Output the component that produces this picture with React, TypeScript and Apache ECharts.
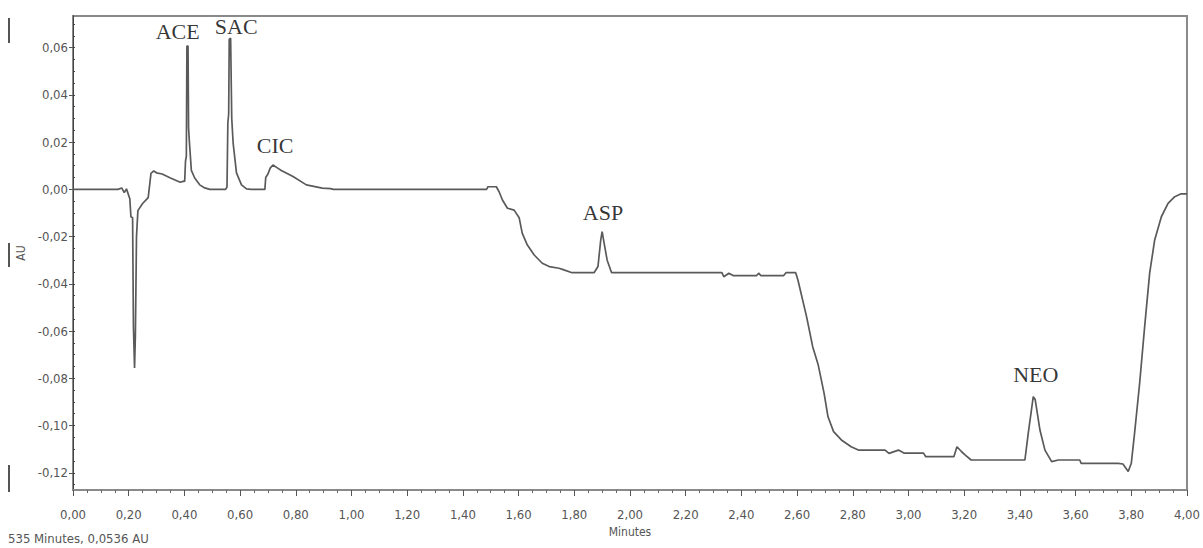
import React, { useEffect, useRef } from "react";
import * as echarts from "echarts";

// Chromatogram trace: [time (min), absorbance (AU)]
const injectionRegion: [number, number][] = [
  [0.0, 0.0], [0.161, 0.0], [0.175, 0.0006], [0.184, -0.0014], [0.192, 0.0002],
  [0.204, -0.004], [0.208, -0.0116], [0.214, -0.012], [0.217, -0.058],
  [0.221, -0.0756], [0.224, -0.062], [0.228, -0.02], [0.233, -0.009],
  [0.25, -0.006], [0.27, -0.0035], [0.28, 0.0068], [0.29, 0.0078],
  [0.30, 0.007], [0.32, 0.0065], [0.35, 0.0048], [0.385, 0.003], [0.398, 0.0035],
];
const acePeak: [number, number][] = [
  [0.401, 0.0033], [0.404, 0.012], [0.407, 0.014], [0.409, 0.0607], [0.413, 0.0607],
  [0.415, 0.026], [0.418, 0.02], [0.425, 0.008], [0.437, 0.0048], [0.455, 0.0019],
  [0.473, 0.0006], [0.491, 0.0],
];
const sacPeak: [number, number][] = [
  [0.548, 0.0], [0.553, 0.001], [0.556, 0.028], [0.559, 0.032], [0.561, 0.0636],
  [0.566, 0.064], [0.57, 0.03], [0.575, 0.0196], [0.587, 0.007], [0.605, 0.0019],
  [0.623, 0.0002], [0.64, 0.0],
];
const cicPeak: [number, number][] = [
  [0.689, 0.0], [0.692, 0.005], [0.7, 0.0065], [0.708, 0.009], [0.718, 0.0103],
  [0.735, 0.009], [0.748, 0.008], [0.79, 0.0054], [0.838, 0.0019], [0.895, 0.0005],
  [0.925, 0.0003], [0.935, 0.0],
];
const aspRegion: [number, number][] = [
  [1.485, 0.0], [1.49, 0.0011], [1.52, 0.0011], [1.53, -0.001], [1.542, -0.0045],
  [1.56, -0.008], [1.584, -0.0088], [1.602, -0.012], [1.613, -0.0185], [1.631, -0.0235],
  [1.656, -0.0278], [1.685, -0.0313], [1.71, -0.0327], [1.745, -0.0334], [1.76, -0.034],
  [1.792, -0.0353], [1.871, -0.0353], [1.885, -0.0327], [1.895, -0.0214], [1.9, -0.0179],
  [1.906, -0.022], [1.918, -0.03], [1.934, -0.0353],
];
const plateauRegion: [number, number][] = [
  [2.33, -0.0353], [2.337, -0.037], [2.355, -0.0355], [2.37, -0.0365], [2.455, -0.0365],
  [2.462, -0.0355], [2.47, -0.0365], [2.552, -0.0365], [2.56, -0.0353], [2.595, -0.0353],
];
const dropRegion: [number, number][] = [
  [2.603, -0.0384], [2.634, -0.0539], [2.656, -0.0666], [2.676, -0.0744], [2.697, -0.0864],
  [2.711, -0.0963], [2.731, -0.1026], [2.759, -0.1061], [2.794, -0.109], [2.82, -0.1104],
  [2.916, -0.1104], [2.93, -0.1118], [2.964, -0.1104], [2.985, -0.1117], [3.054, -0.1117],
  [3.062, -0.1132], [3.163, -0.1132], [3.174, -0.109], [3.19, -0.111], [3.204, -0.1125],
  [3.225, -0.1146], [3.418, -0.1146],
];
const neoRegion: [number, number][] = [
  [3.43, -0.1033], [3.448, -0.0878], [3.455, -0.089], [3.472, -0.1019], [3.49, -0.1104],
  [3.514, -0.1153], [3.538, -0.1146], [3.615, -0.1146], [3.62, -0.116], [3.753, -0.116],
  [3.77, -0.1163], [3.789, -0.1195], [3.8, -0.116],
];
const endRise: [number, number][] = [
  [3.812, -0.103], [3.83, -0.0821], [3.848, -0.0581], [3.866, -0.0355], [3.884, -0.0214],
  [3.908, -0.0116], [3.932, -0.0059], [3.956, -0.0031], [3.979, -0.0019], [4.0, -0.0019],
];

const peakNames = ["ACE", "SAC", "CIC", "ASP", "NEO"];
const peakLabelPos: [number, number][] = [
  [0.376, 0.0667], [0.586, 0.069], [0.726, 0.0184], [1.903, -0.01], [3.457, -0.0782],
];

const xTickValues = [0, 0.2, 0.4, 0.6, 0.8, 1.0, 1.2, 1.4, 1.6, 1.8, 2.0, 2.2, 2.4, 2.6, 2.8, 3.0, 3.2, 3.4, 3.6, 3.8, 4.0];
const yTickValues = [0.06, 0.04, 0.02, 0.0, -0.02, -0.04, -0.06, -0.08, -0.1, -0.12];
const xRange = [0, 4];
const yRange = [-0.1273, 0.0734];

const fmt = (v: number) => {
  const s = Math.abs(v).toFixed(2).replace(".", ",");
  return (v < -1e-9 ? "-" : "") + s;
};

const tickFont = "'Liberation Sans Narrow', 'DejaVu Sans Condensed', sans-serif";

export default function App() {
  const ref = useRef<HTMLDivElement>(null);
  useEffect(() => {
    if (!ref.current) return;
    const chart = echarts.init(ref.current, undefined, { renderer: "svg" });
    const trace = [
      ...injectionRegion, ...acePeak, ...sacPeak, ...cicPeak, ...aspRegion,
      ...plateauRegion, ...dropRegion, ...neoRegion, ...endRise,
    ];
    const minorY: number[] = [];
    for (let k = -25; k <= 14; k++) minorY.push(Math.round(k * 5) / 1000);

    chart.setOption({
      animation: false,
      backgroundColor: "#ffffff",
      grid: {
        left: 73, top: 16, right: 14, bottom: 58,
        show: true, borderColor: "#8a8a8a", borderWidth: 2, backgroundColor: "transparent",
      },
      xAxis: {
        type: "value", min: xRange[0], max: xRange[1], interval: 0.2,
        name: "Minutes", nameLocation: "middle", nameGap: 36,
        nameTextStyle: { fontFamily: tickFont, fontSize: 12, color: "#555" },
        axisLine: { show: true, onZero: false, lineStyle: { color: "#8a8a8a", width: 2 } },
        axisTick: { show: true, customValues: xTickValues, length: 6, lineStyle: { color: "#555" } },
        minorTick: { show: true, splitNumber: 4, length: 3, lineStyle: { color: "#666" } },
        axisLabel: {
          customValues: xTickValues, margin: 18, formatter: (v: number) => fmt(v),
          fontFamily: tickFont, fontSize: 13, color: "#555",
        },
        splitLine: { show: false },
      },
      yAxis: [
        {
          type: "value", min: yRange[0], max: yRange[1],
          name: "AU", nameLocation: "middle", nameGap: 42, nameRotate: 90,
          nameTextStyle: { fontFamily: tickFont, fontSize: 12, color: "#555" },
          axisLine: { show: true, onZero: false, lineStyle: { color: "#444", width: 1 } },
          axisTick: { show: true, customValues: yTickValues, length: 4, lineStyle: { color: "#555" } },
          axisLabel: {
            customValues: yTickValues, margin: 5, formatter: (v: number) => fmt(v),
            fontFamily: tickFont, fontSize: 13, color: "#555",
          },
          splitLine: { show: false },
        },
        {
          type: "value", min: yRange[0], max: yRange[1], position: "left", offset: 0,
          axisLine: { show: true, onZero: false, lineStyle: { color: "#444", width: 1 } },
          axisTick: { show: true, customValues: minorY, length: 2, inside: true, lineStyle: { color: "#444" } },
          axisLabel: { show: false },
          splitLine: { show: false },
        },
      ],
      series: [
        {
          type: "line", data: trace, showSymbol: false, symbol: "none",
          lineStyle: { color: "#5a5a5a", width: 1.7 }, z: 3,
        },
        {
          type: "scatter", symbolSize: 1, itemStyle: { color: "rgba(0,0,0,0)" },
          data: peakNames.map((n, i) => ({ name: n, value: peakLabelPos[i] })),
          label: {
            show: true, position: "inside", formatter: (p: any) => p.name,
            fontFamily: "'Liberation Serif', 'Times New Roman', serif", fontSize: 22, color: "#000",
          },
          z: 4,
        },
      ],
      graphic: [
        { type: "text", left: 8, top: 532, style: { text: "535 Minutes, 0,0536 AU", fontFamily: tickFont, fontSize: 13, fill: "#555" } },
        { type: "line", shape: { x1: 9, y1: 18, x2: 9, y2: 43 }, style: { stroke: "#555", lineWidth: 2 } },
        { type: "line", shape: { x1: 9, y1: 243, x2: 9, y2: 267 }, style: { stroke: "#555", lineWidth: 2 } },
        { type: "line", shape: { x1: 9, y1: 465, x2: 9, y2: 492 }, style: { stroke: "#555", lineWidth: 2 } },
      ],
    });
    return () => chart.dispose();
  }, []);
  return (
    <div
      ref={ref}
      style={{ position: "fixed", left: 0, top: 0, width: 1203, height: 548, background: "#fff" }}
    />
  );
}
